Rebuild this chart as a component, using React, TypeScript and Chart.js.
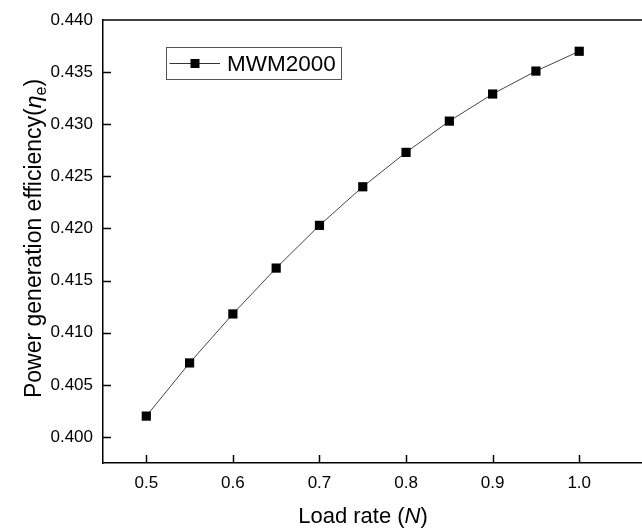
import { useEffect, useRef } from "react";
import { Chart, registerables } from "chart.js";

Chart.register(...registerables);

// ---- data ----
const loadRates = [0.5, 0.55, 0.6, 0.65, 0.7, 0.75, 0.8, 0.85, 0.9, 0.95, 1.0];
const efficiency = [0.402, 0.4071, 0.4118, 0.4162, 0.4203, 0.424, 0.4273, 0.4303, 0.4329, 0.4351, 0.437];
const xTickValues = [0.5, 0.6, 0.7, 0.8, 0.9, 1.0];
const yTickValues = [0.4, 0.405, 0.41, 0.415, 0.42, 0.425, 0.43, 0.435, 0.44];
const seriesName = "MWM2000";
const xTitleParts = [
  { text: "Load rate (", italic: false },
  { text: "N", italic: true },
  { text: ")", italic: false },
];

const FONT = "'Liberation Sans', Arial, sans-serif";

const decorPlugin = {
  id: "decor",
  afterDraw(chart: any) {
    const { ctx, chartArea: a, scales } = chart;
    const x = scales.x;
    const y = scales.y;
    ctx.save();
    ctx.strokeStyle = "#000";
    ctx.lineWidth = 1.5;
    // top frame line
    ctx.beginPath();
    ctx.moveTo(a.left, a.top);
    ctx.lineTo(a.right, a.top);
    ctx.stroke();
    // inward ticks
    x.ticks.forEach((t: any) => {
      const px = Math.round(x.getPixelForValue(t.value)) + 0.5;
      ctx.beginPath();
      ctx.moveTo(px, a.bottom);
      ctx.lineTo(px, a.bottom - 8);
      ctx.stroke();
    });
    y.ticks.forEach((t: any) => {
      if (t.value >= 0.44 - 1e-9) return;
      const py = Math.round(y.getPixelForValue(t.value)) + 0.5;
      ctx.beginPath();
      ctx.moveTo(a.left, py);
      ctx.lineTo(a.left + 8, py);
      ctx.stroke();
    });

    ctx.fillStyle = "#000";
    ctx.textBaseline = "alphabetic";
    ctx.textAlign = "left";

    // x title
    const xs = 22;
    const xFonts = xTitleParts.map((p) => `${p.italic ? "italic " : ""}${xs}px ${FONT}`);
    let total = 0;
    const widths = xTitleParts.map((p, i) => {
      ctx.font = xFonts[i];
      const w = ctx.measureText(p.text).width;
      total += w;
      return w;
    });
    let cx = a.left + 260 - total / 2;
    xTitleParts.forEach((p, i) => {
      ctx.font = xFonts[i];
      ctx.fillText(p.text, cx, 522.5);
      cx += widths[i];
    });

    // y title (rotated)
    const ys = 23;
    const yParts = [
      { text: "Power generation efficiency(", font: `${ys}px ${FONT}`, dy: 0 },
      { text: "\u03B7", font: `italic ${ys}px ${FONT}`, dy: 0 },
      { text: "e", font: `16px ${FONT}`, dy: 5 },
      { text: ")", font: `${ys}px ${FONT}`, dy: 0 },
    ];
    let ytotal = 0;
    const yw = yParts.map((p) => {
      ctx.font = p.font;
      const w = ctx.measureText(p.text).width;
      ytotal += w;
      return w;
    });
    ctx.save();
    ctx.translate(40.5, 238.5);
    ctx.rotate(-Math.PI / 2);
    let yx = -ytotal / 2;
    yParts.forEach((p, i) => {
      ctx.font = p.font;
      ctx.fillText(p.text, yx, p.dy);
      yx += yw[i];
    });
    ctx.restore();

    // legend
    ctx.lineWidth = 1;
    ctx.strokeStyle = "#555";
    ctx.strokeRect(166.5, 47.5, 175, 32);
    ctx.strokeStyle = "#333";
    ctx.beginPath();
    ctx.moveTo(169.5, 63.5);
    ctx.lineTo(220, 63.5);
    ctx.stroke();
    ctx.fillStyle = "#000";
    ctx.fillRect(190.5, 59, 9, 9);
    ctx.font = `22.5px ${FONT}`;
    ctx.fillText(chart.data.datasets[0].label, 227, 71);

    ctx.restore();
  },
};

export default function App() {
  const ref = useRef<HTMLCanvasElement | null>(null);
  useEffect(() => {
    if (!ref.current) return;
    const chart = new Chart(ref.current, {
      type: "line",
      data: {
        datasets: [
          {
            label: seriesName,
            data: loadRates.map((v, i) => ({ x: v, y: efficiency[i] })),
            borderColor: "#444",
            borderWidth: 1,
            pointStyle: "rect",
            pointRadius: 6.5,
            pointBackgroundColor: "#000",
            pointBorderWidth: 0,
            fill: false,
            tension: 0,
          },
        ],
      },
      options: {
        animation: false,
        responsive: true,
        maintainAspectRatio: false,
        layout: { autoPadding: false, padding: { top: 20, right: 0, left: 0, bottom: 0 } },
        plugins: {
          legend: { display: false },
          tooltip: { enabled: false },
        },
        scales: {
          x: {
            type: "linear",
            min: 0.45,
            max: 1.0725,
            afterBuildTicks: (s: any) => {
              s.ticks = xTickValues.map((v) => ({ value: v }));
            },
            afterFit: (s: any) => {
              s.height = 66;
              s.paddingRight = 0;
              s.paddingLeft = 0;
            },
            grid: { display: false, drawTicks: false },
            border: { display: true, color: "#000", width: 1.5 },
            ticks: {
              padding: 10,
              color: "#000",
              font: { family: FONT, size: 17 },
              callback: (v: any) => Number(v).toFixed(1),
            },
          },
          y: {
            type: "linear",
            min: 0.3975,
            max: 0.44,
            afterBuildTicks: (s: any) => {
              s.ticks = yTickValues.map((v) => ({ value: v }));
            },
            afterFit: (s: any) => {
              s.width = 103;
              s.paddingTop = 0;
              s.paddingBottom = 0;
            },
            grid: { display: false, drawTicks: false },
            border: { display: true, color: "#000", width: 1.5 },
            ticks: {
              padding: 10,
              color: "#000",
              font: { family: FONT, size: 17 },
              callback: (v: any) => Number(v).toFixed(3),
            },
          },
        },
      },
      plugins: [decorPlugin],
    });
    return () => chart.destroy();
  }, []);
  return (
    <div style={{ position: "fixed", left: 0, top: 0, width: 642, height: 529, background: "#fff" }}>
      <canvas ref={ref} />
    </div>
  );
}
